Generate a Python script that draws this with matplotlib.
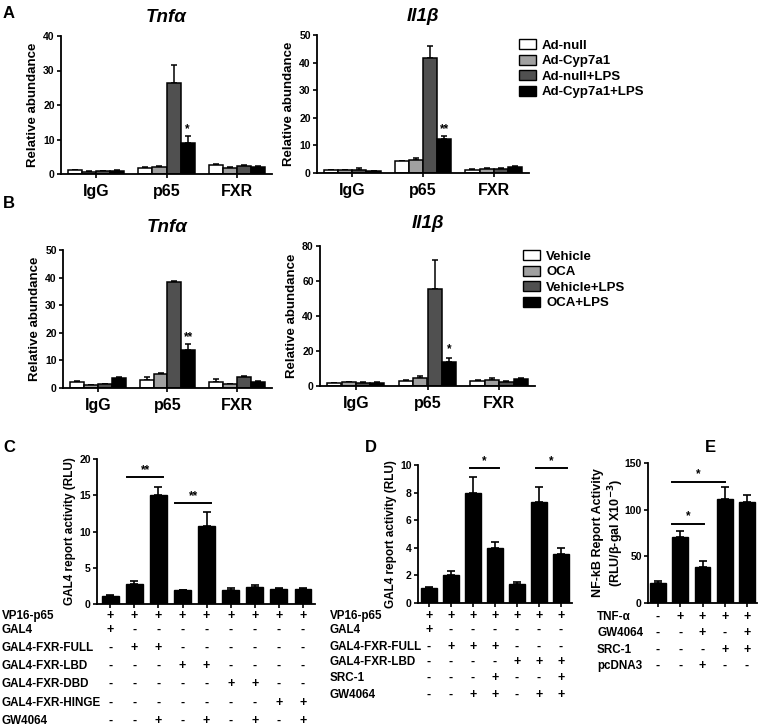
import matplotlib
matplotlib.use("Agg")
import matplotlib.pyplot as plt
import matplotlib.transforms as mtransforms
from matplotlib.patches import Patch
import numpy as np

plt.rcParams['font.family'] = ['Liberation Sans', 'DejaVu Sans']
plt.rcParams['font.weight'] = 'bold'

W, H = 765, 726

# ---------------- data ----------------
groups = ["IgG", "p65", "FXR"]
colors4 = ["#ffffff", "#a0a0a0", "#505050", "#000000"]

a_labels = ["Ad-null", "Ad-Cyp7a1", "Ad-null+LPS", "Ad-Cyp7a1+LPS"]
b_labels = ["Vehicle", "OCA", "Vehicle+LPS", "OCA+LPS"]

# rows: series; columns: IgG, p65, FXR
a_tnf = [[1.1, 1.8, 2.5], [0.7, 2.1, 1.8], [0.85, 26.5, 2.4], [1.0, 9.1, 2.0]]
a_tnf_err = [[0.2, 0.2, 0.3], [0.1, 0.3, 0.2], [0.1, 5.2, 0.3], [0.2, 1.8, 0.2]]
a_il1 = [[1.0, 4.2, 1.2], [1.0, 4.8, 1.6], [1.2, 41.7, 1.5], [0.6, 12.2, 2.2]]
a_il1_err = [[0.2, 0.3, 0.2], [0.2, 0.6, 0.3], [0.5, 4.2, 0.3], [0.1, 1.1, 0.3]]

b_tnf = [[2.0, 2.9, 2.3], [1.1, 5.1, 1.4], [1.3, 38.3, 4.1], [3.8, 13.8, 2.2]]
b_tnf_err = [[0.4, 1.1, 0.9], [0.1, 0.4, 0.2], [0.2, 0.6, 0.3], [0.3, 2.0, 0.2]]
b_il1 = [[1.5, 3.0, 3.0], [2.1, 4.5, 3.7], [2.0, 55.6, 2.3], [2.0, 14.0, 4.0]]
b_il1_err = [[0.3, 0.5, 0.6], [0.4, 1.0, 0.6], [0.3, 16.5, 0.3], [0.3, 2.0, 0.5]]

c_vals = [1.1, 2.8, 15.1, 1.9, 10.7, 1.9, 2.3, 2.05, 2.05]
c_err = [0.1, 0.4, 1.1, 0.1, 2.0, 0.3, 0.35, 0.1, 0.1]
c_rows = ["VP16-p65", "GAL4", "GAL4-FXR-FULL", "GAL4-FXR-LBD", "GAL4-FXR-DBD",
          "GAL4-FXR-HINGE", "GW4064"]
c_signs = ["+++++++++", "+--------", "-++------", "---++----", "-----++--",
           "-------++", "--+-+-+-+"]

d_vals = [1.1, 2.05, 8.0, 3.95, 1.35, 7.35, 3.55]
d_err = [0.05, 0.25, 1.1, 0.45, 0.2, 1.05, 0.4]
d_rows = ["VP16-p65", "GAL4", "GAL4-FXR-FULL", "GAL4-FXR-LBD", "SRC-1", "GW4064"]
d_signs = ["+++++++", "+------", "-+++---", "----+++", "---+--+", "--++-++"]

e_vals = [21, 70.5, 38.5, 111, 108]
e_err = [3, 6.5, 6, 13, 7.5]
e_rows = ["TNF-\u03b1", "GW4064", "SRC-1", "pcDNA3"]
e_signs = ["-++++", "--+-+", "---++", "--+--"]

# ---------------- helpers ----------------
fig = plt.figure(figsize=(W / 100, H / 100), dpi=100)


def add_ax(x0, y0, x1, y1):
    return fig.add_axes([x0 / W, 1 - y1 / H, (x1 - x0) / W, (y1 - y0) / H])


def style(ax, fs=7.5):
    for s in ["top", "right"]:
        ax.spines[s].set_visible(False)
    for s in ["left", "bottom"]:
        ax.spines[s].set_linewidth(1.3)
    ax.tick_params(axis="both", width=1.2, length=3, labelsize=fs, pad=1.5)
    for lab in ax.get_yticklabels():
        lab.set_fontweight("bold")


def grouped(ax, vals, errs, ymax, step, title, stars, star_y, title_pad):
    n = len(vals)
    bw = 0.2
    x = np.arange(len(groups))
    for i in range(n):
        xi = x + (i - 1.5) * bw
        ax.bar(xi, vals[i], bw, color=colors4[i], edgecolor="black", linewidth=1.1, zorder=2)
        ax.errorbar(xi, vals[i], yerr=[np.zeros(len(groups)), errs[i]], fmt="none",
                    ecolor="black", elinewidth=1.1, capsize=2.5, capthick=1.1, zorder=1)
    ax.set_xlim(-0.5, 2.5)
    ax.set_ylim(0, ymax)
    ax.set_yticks(np.arange(0, ymax + 0.1, step))
    ax.set_xticks(x)
    ax.set_xticklabels(groups)
    ax.set_ylabel("Relative abundance", fontsize=9.5, fontweight="bold", labelpad=3)
    ax.set_title(title, fontsize=13.5, fontweight="bold", fontstyle="italic", pad=title_pad)
    ax.text(1 + 1.5 * bw, star_y, stars, ha="center", va="bottom", fontsize=8.5, fontweight="bold")
    style(ax)
    ax.tick_params(axis="x", pad=4)
    for lab in ax.get_xticklabels():
        lab.set_fontsize(11.5)
        lab.set_fontweight("bold")


# ---------------- panel A ----------------
axA1 = add_ax(61, 36, 272, 174)
grouped(axA1, a_tnf, a_tnf_err, 40, 10, "Tnf\u03b1", "*", 11.2, 10)
axA2 = add_ax(317, 35, 529, 173)
grouped(axA2, a_il1, a_il1_err, 50, 10, "Il1\u03b2", "**", 13.8, 10)

# ---------------- panel B ----------------
axB1 = add_ax(63, 250, 272, 388)
grouped(axB1, b_tnf, b_tnf_err, 50, 10, "Tnf\u03b1", "**", 16.3, 13)
axB2 = add_ax(320, 246, 535, 386)
grouped(axB2, b_il1, b_il1_err, 80, 20, "Il1\u03b2", "*", 17.5, 13)

leg_kw = dict(frameon=False, fontsize=9.5, handlelength=1.3, handleheight=0.8,
              handletextpad=0.45, labelspacing=0.22, borderpad=0, borderaxespad=0,
              loc="upper left")
hA = [Patch(facecolor=c, edgecolor="black", linewidth=1.0) for c in colors4]
legA = fig.legend(hA, a_labels, bbox_to_anchor=(519 / W, 1 - 39 / H), **leg_kw)
legB = fig.legend(hA, b_labels, bbox_to_anchor=(523 / W, 1 - 250 / H), **leg_kw)
for leg in (legA, legB):
    for t in leg.get_texts():
        t.set_fontweight("bold")


def simple(ax, vals, errs, ymax, step, ylabel, lab_fs=8.5, labelpad=2):
    x = np.arange(len(vals))
    ax.bar(x, vals, 0.7, color="black", edgecolor="black", zorder=2)
    ax.errorbar(x, vals, yerr=[np.zeros(len(vals)), errs], fmt="none", ecolor="black",
                elinewidth=1.2, capsize=3, capthick=1.2, zorder=1)
    ax.set_ylim(0, ymax)
    ax.set_yticks(np.arange(0, ymax + 0.01, step))
    ax.set_xticks(x)
    ax.set_xticklabels([])
    ax.set_ylabel(ylabel, fontsize=lab_fs, fontweight="bold", labelpad=labelpad)
    style(ax)
    return x


def table(ax, rows, signs, ys, label_x, fs=8.4, sign_fs=9):
    trans = mtransforms.blended_transform_factory(ax.transData, fig.transFigure)
    for r, (name, sg, yy) in enumerate(zip(rows, signs, ys)):
        fig.text(label_x / W, 1 - yy / H, name, ha="left", va="center", fontsize=fs,
                 fontweight="bold")
        for i, ch in enumerate(sg):
            ax.text(i, 1 - yy / H, "+" if ch == "+" else "-", transform=trans,
                    ha="center", va="center", fontsize=sign_fs, fontweight="bold",
                    clip_on=False)


def sig(ax, x0, x1, y, txt, dy):
    ax.plot([x0, x1], [y, y], color="black", lw=1.4, clip_on=False)
    ax.text((x0 + x1) / 2, y + dy, txt, ha="center", va="bottom", fontsize=8.5,
            fontweight="bold")


# ---------------- panel C ----------------
axC = add_ax(97, 459, 315, 604)
simple(axC, c_vals, c_err, 20, 5, "GAL4 report activity (RLU)")
axC.set_xlim(-0.55, 8.5)
sig(axC, 0.7, 2.2, 17.5, "**", 0.2)
sig(axC, 2.7, 4.2, 13.9, "**", 0.2)
table(axC, c_rows, c_signs, [615.5, 630, 648, 666, 684, 703, 721], 2)

# ---------------- panel D ----------------
axD = add_ax(418, 465, 572, 603)
simple(axD, d_vals, d_err, 10, 2, "GAL4 report activity (RLU)")
axD.set_xlim(-0.5, 6.5)
sig(axD, 1.85, 3.2, 9.75, "*", 0.1)
sig(axD, 4.85, 6.25, 9.75, "*", 0.1)
table(axD, d_rows, d_signs, [615.5, 630, 647, 662, 678, 695], 330)

# ---------------- panel E ----------------
axE = add_ax(648, 463, 757, 603)
simple(axE, e_vals, e_err, 150, 50, "NF-kB Report Activity\n(RLU/\u03b2-gal X10$^{\\mathbf{-3}}$)",
       lab_fs=9, labelpad=-1)
axE.set_xlim(-0.45, 4.45)
sig(axE, 0.65, 3.0, 130, "*", 1.5)
sig(axE, 0.65, 2.05, 85, "*", 1.5)
table(axE, e_rows, e_signs, [617, 633, 650, 666], 597)

# ---------------- panel letters ----------------
for txt, x, y in [("A", 3, 13), ("B", 3, 203), ("C", 3, 448), ("D", 365, 448), ("E", 705, 448)]:
    fig.text(x / W, 1 - y / H, txt, fontsize=12, fontweight="bold", ha="left", va="center")

fig.savefig("out.png", dpi=100)
